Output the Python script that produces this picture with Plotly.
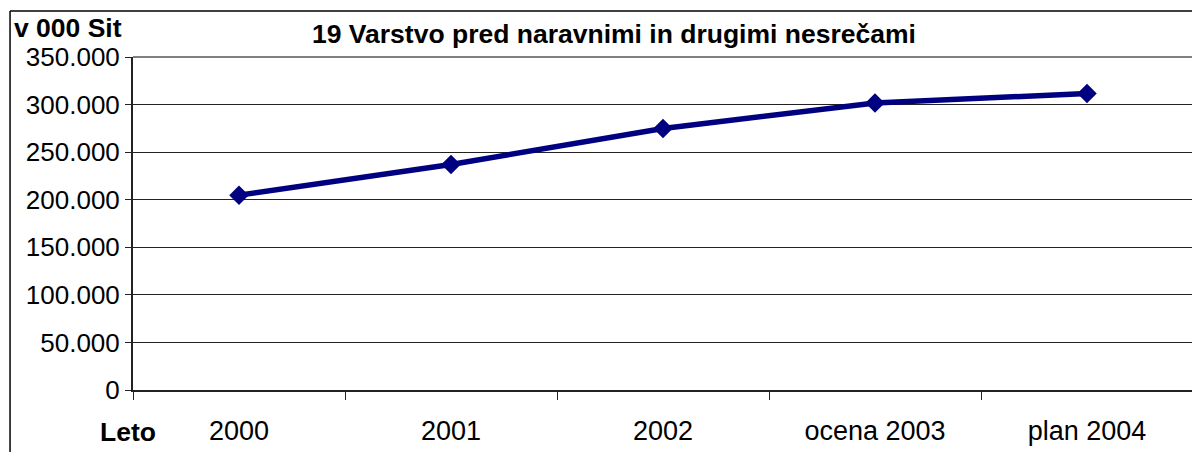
import plotly.graph_objects as go

# data (v 000 Sit)
categories = ["2000", "2001", "2002", "ocena 2003", "plan 2004"]
values = [204800, 237100, 274800, 301700, 311600]
y_ticks = [0, 50000, 100000, 150000, 200000, 250000, 300000, 350000]

title_text = "19 Varstvo pred naravnimi in drugimi nesrečami"
unit_text = "v 000 Sit"
xaxis_text = "Leto"

font_family = "Liberation Sans, Arial, sans-serif"
line_color = "#000080"

fig = go.Figure()
fig.add_trace(
    go.Scatter(
        x=categories,
        y=values,
        mode="lines+markers",
        line=dict(color=line_color, width=5.5),
        marker=dict(symbol="diamond", size=15, color=line_color),
        showlegend=False,
    )
)

# the page body adds an 8px offset, so the figure is sized to fit the window
fig.update_layout(
    width=1192,
    height=444,
    margin=dict(l=125, r=7, t=49, b=62),
    paper_bgcolor="white",
    plot_bgcolor="white",
    separators=",.",
    font=dict(family=font_family, size=26, color="black"),
    showlegend=False,
)

fig.update_xaxes(
    type="category",
    showgrid=False,
    showline=True,
    linecolor="#222222",
    linewidth=2,
    ticks="outside",
    tickson="boundaries",
    ticklen=8,
    tickcolor="#222222",
    ticklabelstandoff=16,
    tickfont=dict(size=27),
    range=[-0.5, 4.5],
    automargin=False,
)

fig.update_yaxes(
    range=[0, 350000],
    tickvals=y_ticks,
    tickformat=",d",
    showgrid=True,
    gridcolor="#222222",
    gridwidth=1,
    showline=True,
    linecolor="#222222",
    linewidth=2,
    ticks="outside",
    ticklen=6,
    tickcolor="#222222",
    tickfont=dict(size=26),
    zeroline=False,
    automargin=False,
)

# plot area border (top and right, grey)
fig.add_shape(type="line", xref="paper", yref="paper", x0=0, x1=1, y0=1, y1=1,
              line=dict(color="#808080", width=2))
fig.add_shape(type="line", xref="paper", yref="paper", x0=1, x1=1, y0=0, y1=1,
              line=dict(color="#808080", width=2))

# outer chart frame (top and left edges visible)
fig.add_shape(type="line", xref="paper", yref="paper", x0=-0.116, x1=1.01,
              y0=1.138, y1=1.138, line=dict(color="black", width=1.5))
fig.add_shape(type="line", xref="paper", yref="paper", x0=-0.116, x1=-0.116,
              y0=-0.2, y1=1.138, line=dict(color="black", width=1.5))

fig.add_annotation(
    text="<b>" + title_text + "</b>",
    xref="paper", yref="paper", x=0.454, y=1.068,
    xanchor="center", yanchor="middle", showarrow=False,
    font=dict(size=26.5),
)
fig.add_annotation(
    text="<b>" + unit_text + "</b>",
    xref="paper", yref="paper", x=-0.114, y=1.086,
    xanchor="left", yanchor="middle", showarrow=False,
    font=dict(size=26.5),
)
fig.add_annotation(
    text="<b>" + xaxis_text + "</b>",
    xref="paper", yref="paper", x=-0.005, y=-0.126,
    xanchor="center", yanchor="middle", showarrow=False,
    font=dict(size=26.5),
)

fig.write_html("out.html")
